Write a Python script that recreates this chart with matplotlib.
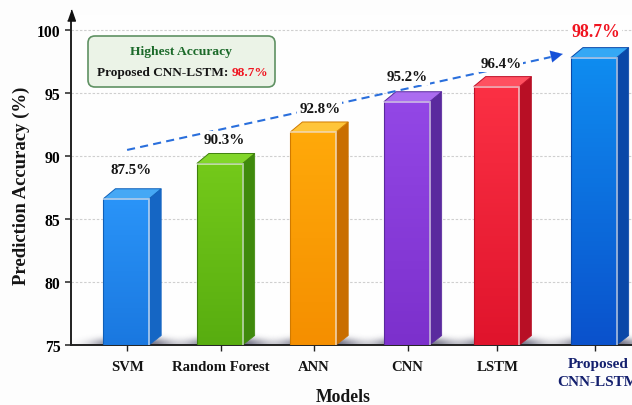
# -*- coding: utf-8 -*-

import numpy as np
from matplotlib import pyplot as plt
from matplotlib.colors import to_rgb
from matplotlib.patches import FancyBboxPatch, Polygon

models = ['SVM', 'Random Forest', 'ANN', 'CNN', 'LSTM', 'Proposed\nCNN-LSTM']
accuracy = [87.5, 90.3, 92.8, 95.2, 96.4, 98.7]
y_ticks = [75, 80, 85, 90, 95, 100]

front_top = ['#2a94f8', '#74c91a', '#ffa90a', '#9347e6', '#fb3044', '#0f8cf0']
front_bottom = ['#1a78e0', '#58ad10', '#f58f00', '#7c30cc', '#e0142c', '#0a52cc']
side_colors = ['#1566c4', '#3f8a0c', '#c96e00', '#5a2a9e', '#b80f25', '#0a48a8']
top_colors = ['#45a8f5', '#82d62a', '#ffc53a', '#ab6cf0', '#ff5060', '#35a8f5']
edge_colors = ['#1060b8', '#3f800c', '#d07a00', '#5a2a9e', '#c01028', '#0a48a8']

plt.rcParams['font.family'] = ['Liberation Serif', 'DejaVu Serif']
plt.rcParams['font.weight'] = 'bold'

fig = plt.figure(figsize=(6.32, 4.06), dpi=100, facecolor='#fdfdfd')
ax = fig.add_axes([71 / 632, 60 / 406, 561 / 632, 330 / 406], facecolor='#fefefe')

# the LSTM column sits slightly left of the regular spacing
x_pos = np.array([0, 1, 2, 3, 3.96, 5])
ax.set_xlim(-0.6, 5.4)
ax.set_ylim(75, 101.19)

width = 0.49
depth_x = 0.13
front_drop = 0.9
back_drop = 0.1


def draw_gradient(ax, poly, c_top, c_bottom, zorder):
    # vertical colour ramp clipped to the polygon
    ramp = np.linspace(to_rgb(c_top), to_rgb(c_bottom), 64)[:, None, :]
    xs, ys = poly.get_xy().T
    im = ax.imshow(ramp, extent=(xs.min(), xs.max(), ys.min(), ys.max()),
                   aspect='auto', origin='upper', zorder=zorder)
    im.set_clip_path(poly)


def draw_shadow(ax, x, zorder):
    # soft dark pool on the floor around the foot of a bar
    gx = np.linspace(x - 0.6, x + 0.7, 130)
    gy = np.linspace(75, 76.2, 30)
    xx, yy = np.meshgrid(gx, gy)
    dist = ((xx - x - 0.06) / 0.42) ** 2 + ((yy - 75) / 0.62) ** 2
    alpha = np.exp(-dist ** 1.5) * 0.8
    rgba = np.zeros(xx.shape + (4,))
    rgba[..., :3] = to_rgb('#3a3a55')
    rgba[..., 3] = alpha
    ax.imshow(rgba, extent=(gx[0], gx[-1], gy[0], gy[-1]), aspect='auto',
              origin='lower', zorder=zorder)


for i, (x, val) in enumerate(zip(x_pos, accuracy)):
    left = x - width / 2 - 0.01
    right = left + width
    front_h = val - front_drop
    back_h = val - back_drop

    draw_shadow(ax, x, 2)

    front = Polygon([(left, 75), (right, 75), (right, front_h), (left, front_h)],
                    closed=True, facecolor='none', edgecolor='none', zorder=4,
                    transform=ax.transData)
    ax.add_patch(front)
    draw_gradient(ax, front, front_top[i], front_bottom[i], 4)

    side = Polygon([(right, 75), (right + depth_x, 75.75),
                    (right + depth_x, back_h), (right, front_h)],
                   closed=True, facecolor=side_colors[i],
                   edgecolor=side_colors[i], linewidth=0.5, zorder=4)
    ax.add_patch(side)

    top = Polygon([(left, front_h), (right, front_h), (right + depth_x, back_h),
                   (left + depth_x, back_h)],
                  closed=True, facecolor=top_colors[i],
                  edgecolor=edge_colors[i], linewidth=0.7, zorder=4)
    ax.add_patch(top)

    # outline of the front face, then the bright bevel along top and right
    ax.plot([left, left, right], [front_h, 75, 75], color=edge_colors[i], lw=0.8, zorder=5)
    ax.plot([left, right, right], [front_h, front_h, 75], color='white', alpha=0.6,
            lw=1.3, zorder=5, solid_joinstyle='miter')

# dashed trend arrow rising across the bars, head added separately so it stays solid
ax.plot([0.0, 4.53], [90.48, 97.85], color='#2a6fdc', lw=1.5,
        linestyle=(0, (3.9, 2.5)), zorder=6)
ax.annotate('', xy=(4.66, 98.1), xytext=(4.5, 97.84),
            arrowprops=dict(arrowstyle='-|>,head_length=0.86,head_width=0.43',
                            color='#1450d8', lw=0.1, shrinkA=0, shrinkB=0), zorder=6)

# value labels knock out the dashes and grid behind them
label_lift = [17.5, 13, 12, 13.5, 12, 15]
label_dx = [0.04, 0.04, 0.06, 0.0, 0.04, 0.01]
for i, (x, val) in enumerate(zip(x_pos, accuracy)):
    last = i == len(models) - 1
    ax.annotate('%.1f%%' % val, xy=(x, val), xytext=(x + label_dx[i], val + label_lift[i] / 12.6),
                ha='center', va='center', zorder=7,
                fontsize=12.8 if last else 10.8,
                color='#f01420' if last else '#151515',
                bbox=dict(boxstyle='square,pad=0.12', facecolor='#fefefe', edgecolor='none'))

# callout box with the best model
box = FancyBboxPatch((88, 318), 187, 51, boxstyle='round,pad=0,rounding_size=7',
                     transform=None, facecolor='#ebf3e7', edgecolor='#5f9163',
                     linewidth=1.2, zorder=6)
fig.add_artist(box)
fig.text(181 / 632, 354 / 406, 'Highest Accuracy', color='#1c6a2a', fontsize=9.7,
         ha='center', va='center', zorder=7)
part_a = fig.text(97 / 632, 333 / 406, 'Proposed CNN-LSTM: ', color='#151515', fontsize=9.5,
                  ha='left', va='center', zorder=7)
fig.canvas.draw()
end_a = part_a.get_window_extent().x1
fig.text(end_a / 632, 333 / 406, '%.1f%%' % accuracy[-1], color='#f01420', fontsize=9.5,
         ha='left', va='center', zorder=7)

ax.set_yticks(y_ticks)
ax.set_xticks(x_pos)
ax.set_xticklabels(models[:-1] + [''], fontsize=10.6)
ax.tick_params(axis='y', labelsize=11.3, length=4.5, width=1.1, color='#222222', pad=3)
ax.tick_params(axis='x', length=4.5, width=1.0, color='#222222', pad=6, labelcolor='#151515')
ax.grid(axis='y', color='#cfcfcf', linestyle=(0, (2.2, 1.6)), linewidth=0.8, zorder=1)
ax.set_axisbelow(True)

# last category runs to two lines and off the right edge
first, second = models[-1].split('\n')
fig.text(598 / 632, 41 / 406, first, fontsize=11, color='#14206e', ha='center', va='center')
fig.text(598 / 632, 23 / 406, second, fontsize=11, color='#14206e', ha='center', va='center')

for name in ['top', 'right']:
    ax.spines[name].set_visible(False)
for name in ['left', 'bottom']:
    ax.spines[name].set_color('#222222')
    ax.spines[name].set_linewidth(1.4)
ax.plot(0, 1, marker=[(-0.7, -1), (0.7, -1), (0, 1)], markersize=8, color='#111111',
        transform=ax.transAxes, clip_on=False, zorder=8)

fig.text(21 / 632, 220 / 406, 'Prediction Accuracy (%)', rotation=90, fontsize=13.5,
         ha='center', va='center', color='#151515')
fig.text(343 / 632, 8 / 406, 'Models', fontsize=12.7, ha='center', va='center', color='#151515')

fig.savefig('out.png', dpi=100, facecolor=fig.get_facecolor())
